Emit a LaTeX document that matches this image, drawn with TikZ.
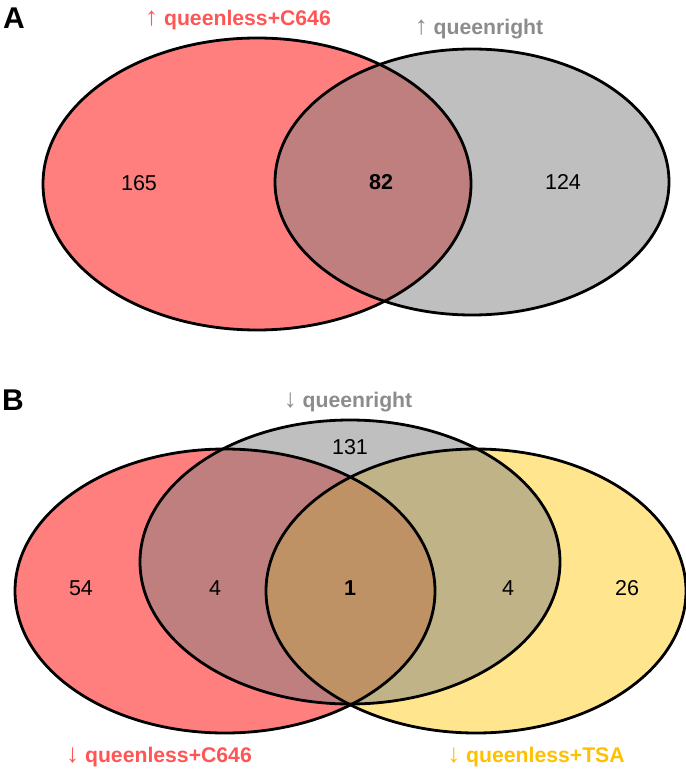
\documentclass[tikz,border=0pt]{standalone}
\usepackage{fontspec}
\setmainfont{Liberation Sans}
\definecolor{setred}{RGB}{255, 0, 0}
\definecolor{setgrey}{RGB}{128, 128, 128}
\definecolor{setyellow}{RGB}{255, 206, 30}
\definecolor{labred}{RGB}{255, 85, 85}
\definecolor{labgrey}{RGB}{140, 140, 140}
\definecolor{labyellow}{RGB}{255, 192, 0}
\usetikzlibrary{positioning}
\newcommand{\uparr}{{\mdseries\fontsize{13}{12}\selectfont ↑}}
\newcommand{\dnarr}{{\mdseries\fontsize{13}{12}\selectfont ↓}}

\begin{document}
\begin{tikzpicture}[
  x=0.5pt, y=-0.5pt,
  venn/.style={fill opacity=0.5},
  outline/.style={draw=black, line width=1.4pt},
  count/.style={font=\fontsize{10.75}{12}\selectfont, inner sep=0pt},
  boldcount/.style={font=\fontsize{10.75}{12}\selectfont\bfseries, inner sep=0pt},
  setlabel/.style={font=\fontsize{10.6}{12}\selectfont\bfseries, inner sep=0pt},
  panel/.style={font=\fontsize{15}{18}\selectfont\bfseries, inner sep=0pt}
]
\useasboundingbox (0,0) rectangle (685,770);

% panel A
\fill[setred, venn] (257,184) ellipse [x radius=214, y radius=146];
\fill[setgrey, venn] (472,182) ellipse [x radius=197, y radius=133];
\draw[outline] (257,184) ellipse [x radius=214, y radius=146];
\draw[outline] (472,182) ellipse [x radius=197, y radius=133];

\node[panel] (pa) at (14,18) {A};
\node[setlabel, text=labred] (upql) at (238,20) {\uparr\ queenless+C646};
\node[setlabel, text=labgrey] (upqr) at (479,29) {\uparr\ queenright};
\node[count] (a1) at (139,183) {165};
\node[boldcount] (a2) at (381,182) {82};
\node[count] (a3) at (563,182) {124};

% panel B
\fill[setred, venn] (225,591) ellipse [x radius=210, y radius=142];
\fill[setyellow, venn] (476,591) ellipse [x radius=210, y radius=142];
\fill[setgrey, venn] (350,562) ellipse [x radius=210, y radius=142];
\draw[outline] (225,591) ellipse [x radius=210, y radius=142];
\draw[outline] (476,591) ellipse [x radius=210, y radius=142];
\draw[outline] (350,562) ellipse [x radius=210, y radius=142];

\node[panel] (pb) at (13,400) {B};
\node[setlabel, text=labgrey] (dnqr) at (348,402) {\dnarr\ queenright};
\node[setlabel, text=labred] (dnql) at (159,757) {\dnarr\ queenless+C646};
\node[setlabel, text=labyellow] (dnqt) at (536,757) {\dnarr\ queenless+TSA};
\node[count] (b1) at (350,447) {131};
\node[count] (b2) at (81,588) {54};
\node[count] (b3) at (215,588) {4};
\node[boldcount] (b4) at (350,588) {1};
\node[count] (b5) at (508,588) {4};
\node[count] (b6) at (627,588) {26};
\end{tikzpicture}
\end{document}
